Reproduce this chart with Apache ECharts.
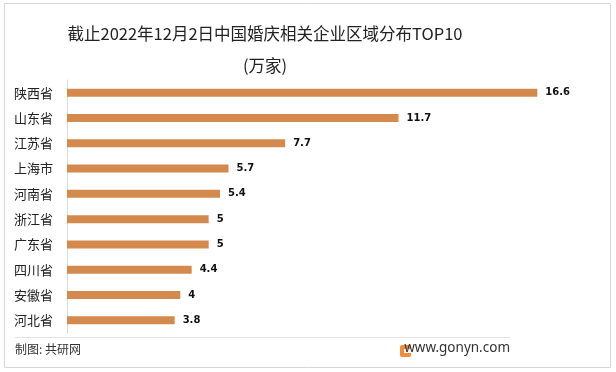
<!DOCTYPE html>
<html><head><meta charset="utf-8">
<script src="https://cdn.jsdelivr.net/npm/echarts@6/dist/echarts.min.js"></script>
<style>html,body{margin:0;padding:0;background:#fff}#c{width:616px;height:372px}</style>
</head><body><div id="c"></div>
<script>
var categories = ['陕西省','山东省','江苏省','上海市','河南省','浙江省','广东省','四川省','安徽省','河北省'];
var values = [16.6, 11.7, 7.7, 5.7, 5.4, 5, 5, 4.4, 4, 3.8];
var titleText = '截止2022年12月2日中国婚庆相关企业区域分布TOP10\n(万家)';
var sourceText = '制图: 共研网';
var siteText = 'www.gonyn.com';

var chart = echarts.init(document.getElementById('c'));
chart.setOption({
  backgroundColor: '#fff',
  animation: false,
  title: {
    text: titleText,
    left: 260, top: 13, textAlign: 'center',
    textStyle: {fontFamily: 'Noto Sans CJK SC', fontSize: 16.5, fontWeight: 'normal', color: '#222', lineHeight: 32}
  },
  grid: {left: 67, right: 39, top: 80, bottom: 39, containLabel: false},
  xAxis: {type: 'value', min: 0, max: 18, show: false},
  yAxis: {
    type: 'category', data: categories, inverse: true,
    axisLine: {show: true, lineStyle: {color: '#d9d9d9', width: 1}},
    axisTick: {show: false},
    axisLabel: {fontFamily: 'Noto Sans CJK SC', fontSize: 13, color: '#222', margin: 14}
  },
  series: [{
    type: 'bar', data: values, barWidth: 8,
    itemStyle: {color: '#D48A4D'},
    label: {show: true, position: 'right', distance: 8, fontFamily: 'DejaVu Sans', fontSize: 10, fontWeight: 'bold', color: '#111'}
  }],
  graphic: [
    {type: 'rect', shape: {x: 4.5, y: 3.5, width: 606, height: 364}, style: {fill: 'none', stroke: '#d6d6d6', lineWidth: 1}, silent: true},
    {type: 'line', shape: {x1: 15, y1: 337.5, x2: 510, y2: 337.5}, style: {stroke: '#e2e2e2', lineWidth: 1}},
    {type: 'text', left: 15, top: 343, style: {text: sourceText, font: '12px "Noto Sans CJK SC"', fill: '#333'}},
    {type: 'rect', shape: {x: 400, y: 345, width: 11, height: 12, r: 2}, style: {fill: '#F28C3A'}},
    {type: 'rect', shape: {x: 404, y: 349, width: 7, height: 4}, style: {fill: '#fff'}},
    {type: 'text', right: 106, top: 341, style: {text: siteText, font: '13.5px "Noto Sans"', fill: '#333'}}
  ]
});
</script></body></html>
